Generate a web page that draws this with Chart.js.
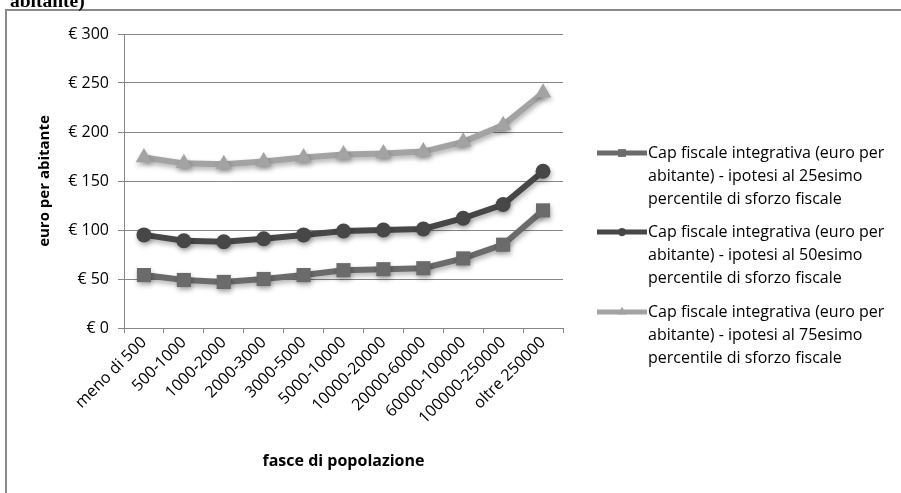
<!DOCTYPE html>
<html>
<head>
<meta charset="utf-8">
<script src="https://cdn.jsdelivr.net/npm/chart.js@4/dist/chart.umd.min.js"></script>
<style>
  html, body { margin: 0; padding: 0; background: #fff; }
  #wrap { position: relative; width: 901px; height: 493px; }
</style>
</head>
<body>
<div id="wrap"><canvas id="chart"></canvas></div>
<script>
"use strict";

// Cap fiscale integrativa per fascia di popolazione, three percentile hypotheses.

const CATEGORIES = ["meno di 500", "500-1000", "1000-2000", "2000-3000", "3000-5000", "5000-10000",
  "10000-20000", "20000-60000", "60000-100000", "100000-250000", "oltre 250000"];
const P25 = [54, 49, 47, 50, 54, 59, 60, 61, 71, 85, 120];
const P50 = [95, 89, 88, 91, 95, 99, 100, 101, 112, 126, 160];
const P75 = [174, 168, 167, 170, 174, 177, 178, 180, 190, 207, 240];
const SERIES_NAMES = [
  ["Cap fiscale integrativa (euro per", "abitante) - ipotesi al 25esimo", "percentile di sforzo fiscale"],
  ["Cap fiscale integrativa (euro per", "abitante) - ipotesi al 50esimo", "percentile di sforzo fiscale"],
  ["Cap fiscale integrativa (euro per", "abitante) - ipotesi al 75esimo", "percentile di sforzo fiscale"],
];
const Y_TICKS = { min: 0, max: 300, step: 50 };
const TITLE_TAIL = "abitante)";

const FONT = "'Open Sans', sans-serif";
const AXIS = "#868686";

function series(i, data, color, style, radius) {
  return {
    label: SERIES_NAMES[i].join(" "),
    data,
    borderColor: color,
    backgroundColor: color,
    borderWidth: 6,
    pointStyle: style,
    pointRadius: radius,
    pointHoverRadius: radius,
    pointBorderWidth: 0,
    tension: 0,
  };
}

// soft drop shadow under lines and markers, like the office chart
const shadow = {
  id: "shadow",
  beforeDatasetsDraw(chart) {
    const c = chart.ctx;
    c.save();
    c.shadowColor = "rgba(0,0,0,0.3)";
    c.shadowBlur = 5;
    c.shadowOffsetX = 1;
    c.shadowOffsetY = 3;
  },
  afterDatasetsDraw(chart) { chart.ctx.restore(); },
};

// frame, cut-off title and the wrapped legend at the right
const decor = {
  id: "decor",
  afterDraw(chart) {
    const c = chart.ctx;
    c.save();
    c.strokeStyle = "#8a8a8a";
    c.lineWidth = 2;
    c.beginPath();
    c.moveTo(6, 493); c.lineTo(6, 10); c.lineTo(901, 10);
    c.stroke();

    c.fillStyle = "#000";
    c.font = "bold 19.5px 'Liberation Serif', serif";
    c.textBaseline = "alphabetic";
    c.fillText(TITLE_TAIL, 10, 7);

    const rows = [153, 232, 312];
    chart.data.datasets.forEach((ds, i) => {
      const y = rows[i];
      c.strokeStyle = ds.borderColor;
      c.lineWidth = 5;
      c.beginPath(); c.moveTo(597, y); c.lineTo(647, y); c.stroke();
      c.fillStyle = ds.backgroundColor;
      Chart.helpers.drawPoint(c, { pointStyle: ds.pointStyle, radius: ds.pointRadius * 0.55, rotation: 0, borderWidth: 0 }, 622, y);
      c.fillStyle = "#000";
      c.font = "16px " + FONT;
      c.textBaseline = "middle";
      SERIES_NAMES[i].forEach((t, k) => c.fillText(t, 648, y + k * 23));
    });
    c.restore();
  },
};

new Chart(document.getElementById("chart"), {
  type: "line",
  data: {
    labels: CATEGORIES,
    datasets: [
      series(0, P25, "#6b6b6b", "rect", 10),
      series(1, P50, "#474747", "circle", 7.5),
      series(2, P75, "#a3a3a3", "triangle", 9.5),
    ],
  },
  options: {
    responsive: true,
    maintainAspectRatio: false,
    animation: false,
    devicePixelRatio: 1,
    layout: { padding: { left: 36, right: 338, top: 34, bottom: 22 } },
    plugins: { legend: { display: false }, tooltip: { enabled: false } },
    scales: {
      x: {
        offset: true,
        grid: { offset: true, drawOnChartArea: false, drawTicks: true, tickLength: 5, color: AXIS },
        border: { color: AXIS },
        ticks: { color: "#000", font: { family: FONT, size: 16 }, minRotation: 45, maxRotation: 45, padding: 0, autoSkip: false },
        title: { display: true, text: "fasce di popolazione", color: "#000", font: { family: FONT, size: 16, weight: "bold" }, padding: 0 },
        afterFit(s) { s.height = 493 - 22 - 328; },
      },
      y: {
        min: Y_TICKS.min,
        max: Y_TICKS.max,
        grid: { color: AXIS, tickLength: 6 },
        border: { color: AXIS },
        ticks: { stepSize: Y_TICKS.step, color: "#000", font: { family: FONT, size: 16 }, padding: 9,
          callback: (v) => "€ " + v },
        title: { display: true, text: "euro per abitante", color: "#000", font: { family: FONT, size: 15, weight: "bold" }, padding: 0 },
        afterFit(s) { s.width = 124 - 36; },
      },
    },
  },
  plugins: [shadow, decor],
});
</script>
</body>
</html>
